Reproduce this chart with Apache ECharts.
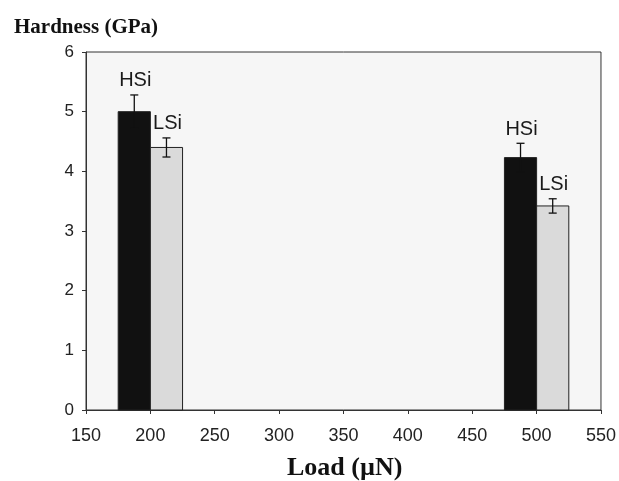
<!DOCTYPE html>
<html><head><meta charset="utf-8">
<script src="https://cdn.jsdelivr.net/npm/echarts@6/dist/echarts.min.js"></script>
<style>html,body{margin:0;padding:0;background:#fff}#c{width:619px;height:481px}</style>
</head><body><div id="c"></div>
<script>
const loads = [200, 500];
const hsiValues = [5.0, 4.23];
const hsiErrors = [0.28, 0.24];
const lsiValues = [4.4, 3.42];
const lsiErrors = [0.16, 0.12];
const xTicks = [150, 200, 250, 300, 350, 400, 450, 500, 550];
const yTicks = [0, 1, 2, 3, 4, 5, 6];
const seriesNames = ['HSi', 'LSi'];

const BAR_W = 25;
function makeSeries(name, vals, errs, side, color) {
  const data = loads.map((l, i) => [l, vals[i], errs[i]]);
  return {
    type: 'custom', name: name, data: data,
    renderItem: function (params, api) {
      const x = api.value(0), v = api.value(1), e = api.value(2);
      const x0 = side < 0 ? x - BAR_W : x, x1 = side < 0 ? x : x + BAR_W;
      const p0 = api.coord([x0, v]), p1 = api.coord([x1, 0]);
      const cx = (p0[0] + p1[0]) / 2;
      const top = api.coord([x, v + e])[1], bot = api.coord([x, v - e])[1];
      const capW = 4;
      return {
        type: 'group', children: [
          { type: 'rect', shape: { x: p0[0], y: p0[1], width: p1[0] - p0[0], height: p1[1] - p0[1] },
            style: { fill: color, stroke: '#222', lineWidth: 1 } },
          { type: 'line', shape: { x1: cx, y1: top, x2: cx, y2: bot }, style: { stroke: '#111', lineWidth: 1.3 } },
          { type: 'line', shape: { x1: cx - capW, y1: top, x2: cx + capW, y2: top }, style: { stroke: '#111', lineWidth: 1.3 } },
          { type: 'line', shape: { x1: cx - capW, y1: bot, x2: cx + capW, y2: bot }, style: { stroke: '#111', lineWidth: 1.3 } },
          { type: 'text', style: { x: cx + 1, y: top - 4, text: name, textAlign: 'center', textVerticalAlign: 'bottom',
            font: '20px "Liberation Sans", Arial, sans-serif', fill: '#1a1a1a' } }
        ]
      };
    }
  };
}

const chart = echarts.init(document.getElementById('c'));
chart.setOption({
  animation: false,
  backgroundColor: '#fff',
  grid: { left: 86, right: 18, top: 52, bottom: 71, show: true, borderColor: '#333', borderWidth: 1, backgroundColor: '#f6f6f6' },
  title: [
    { text: 'Hardness (GPa)', left: 9, top: 12, textStyle: { fontFamily: '"Liberation Serif", "Times New Roman", serif', fontWeight: 'bold', fontSize: 21, color: '#111' } },
    { text: 'Load (\u00b5N)', left: 282, top: 450, textStyle: { fontFamily: '"Liberation Serif", "Times New Roman", serif', fontWeight: 'bold', fontSize: 26, color: '#111' } }
  ],
  xAxis: {
    type: 'value', min: xTicks[0], max: xTicks[xTicks.length - 1], interval: 50,
    axisLine: { lineStyle: { color: '#333' } },
    axisTick: { length: 4, lineStyle: { color: '#333' } },
    splitLine: { show: false },
    axisLabel: { margin: 17, fontSize: 18, color: '#222', fontFamily: '"Liberation Sans", Arial, sans-serif' }
  },
  yAxis: {
    type: 'value', min: yTicks[0], max: yTicks[yTicks.length - 1], interval: 1,
    axisLine: { show: true, lineStyle: { color: '#333' } },
    axisTick: { show: true, length: 4, lineStyle: { color: '#333' } },
    splitLine: { show: false },
    axisLabel: { margin: 12, fontSize: 17, color: '#222', fontFamily: '"Liberation Sans", Arial, sans-serif' }
  },
  series: [
    makeSeries(seriesNames[0], hsiValues, hsiErrors, -1, '#111111'),
    makeSeries(seriesNames[1], lsiValues, lsiErrors, 1, '#dadada')
  ]
});
</script></body></html>
